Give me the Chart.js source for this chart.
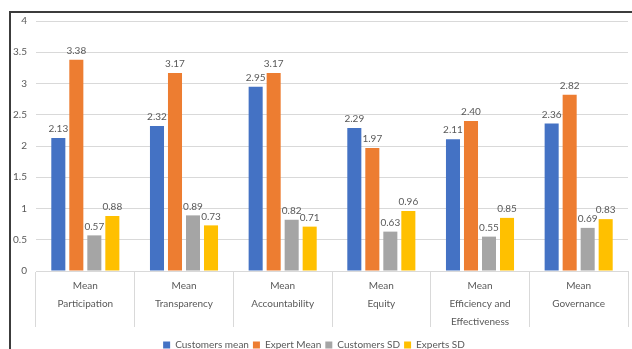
<!DOCTYPE html>
<html>
<head>
<meta charset="utf-8">
<script src="https://cdn.jsdelivr.net/npm/chart.js@4"></script>
<style>
  html, body { margin: 0; padding: 0; background: #fff; }
  #wrap { position: relative; width: 632px; height: 349px; }
  #frame {
    position: absolute; left: 9px; top: 11px; right: 0; bottom: 0;
    border-left: 2px solid #3c3c3c; border-top: 2px solid #3c3c3c;
    pointer-events: none;
  }
</style>
</head>
<body>
<div id="wrap">
  <canvas id="chart" width="632" height="349"></canvas>
  <div id="frame"></div>
</div>
<script>
'use strict';

const categories = [
    ['Mean', 'Participation'],
    ['Mean', 'Transparency'],
    ['Mean', 'Accountability'],
    ['Mean', 'Equity'],
    ['Mean', 'Efficiency and', 'Effectiveness'],
    ['Mean', 'Governance']
];
const customersMean = [2.13, 2.32, 2.95, 2.29, 2.11, 2.36];
const expertMean = [3.38, 3.17, 3.17, 1.97, 2.40, 2.82];
const customersSD = [0.57, 0.89, 0.82, 0.63, 0.55, 0.69];
const expertsSD = [0.88, 0.73, 0.71, 0.96, 0.85, 0.83];

const textColor = '#595959';
const gridColor = '#d9d9d9';
const fontFamily = 'Lato, "Open Sans", sans-serif';

// little plugin to print values above bars
const barValues = {
    id: 'barValues',
    afterDatasetsDraw(chart) {
        const ctx = chart.ctx;
        ctx.save();
        ctx.font = '10px ' + fontFamily;
        ctx.fillStyle = textColor;
        ctx.textAlign = 'center';
        ctx.textBaseline = 'bottom';
        chart.data.datasets.forEach((ds, i) => {
            chart.getDatasetMeta(i).data.forEach((bar, j) => {
                ctx.fillText(ds.data[j].toFixed(2), bar.x, bar.y - 4);
            });
        });
        ctx.restore();
    }
};

function makeDataset(label, data, color) {
    return {
        label: label,
        data: data,
        backgroundColor: color,
        categoryPercentage: 0.73,
        barPercentage: 0.78
    };
}

new Chart(document.getElementById('chart'), {
    type: 'bar',
    data: {
        labels: categories,
        datasets: [
            makeDataset('Customers mean', customersMean, '#4472c4'),
            makeDataset('Expert Mean', expertMean, '#ed7d31'),
            makeDataset('Customers SD', customersSD, '#a5a5a5'),
            makeDataset('Experts SD', expertsSD, '#ffc000')
        ]
    },
    options: {
        responsive: false,
        animation: false,
        layout: { padding: { top: 21, right: 4, left: 0, bottom: -11 } },
        plugins: {
            tooltip: { enabled: false },
            legend: {
                position: 'bottom',
                labels: {
                    boxWidth: 7,
                    boxHeight: 7,
                    padding: 4,
                    color: textColor,
                    font: { family: fontFamily, size: 10 }
                }
            }
        },
        scales: {
            x: {
                grid: {
                    offset: true,
                    drawOnChartArea: false,
                    tickLength: 56,
                    color: gridColor
                },
                border: { color: gridColor },
                ticks: {
                    padding: -50,
                    maxRotation: 0,
                    autoSkip: false,
                    color: textColor,
                    font: { family: fontFamily, size: 10, lineHeight: '18px' }
                },
                afterFit(scale) { scale.height = 65; }
            },
            y: {
                min: 0,
                max: 4,
                ticks: {
                    stepSize: 0.5,
                    padding: 9,
                    color: textColor,
                    font: { family: fontFamily, size: 10 },
                    callback: (value) => String(value)
                },
                grid: { color: gridColor, drawTicks: false },
                border: { display: false },
                afterFit(scale) { scale.width = 36; }
            }
        }
    },
    plugins: [barValues]
});
</script>
</body>
</html>
